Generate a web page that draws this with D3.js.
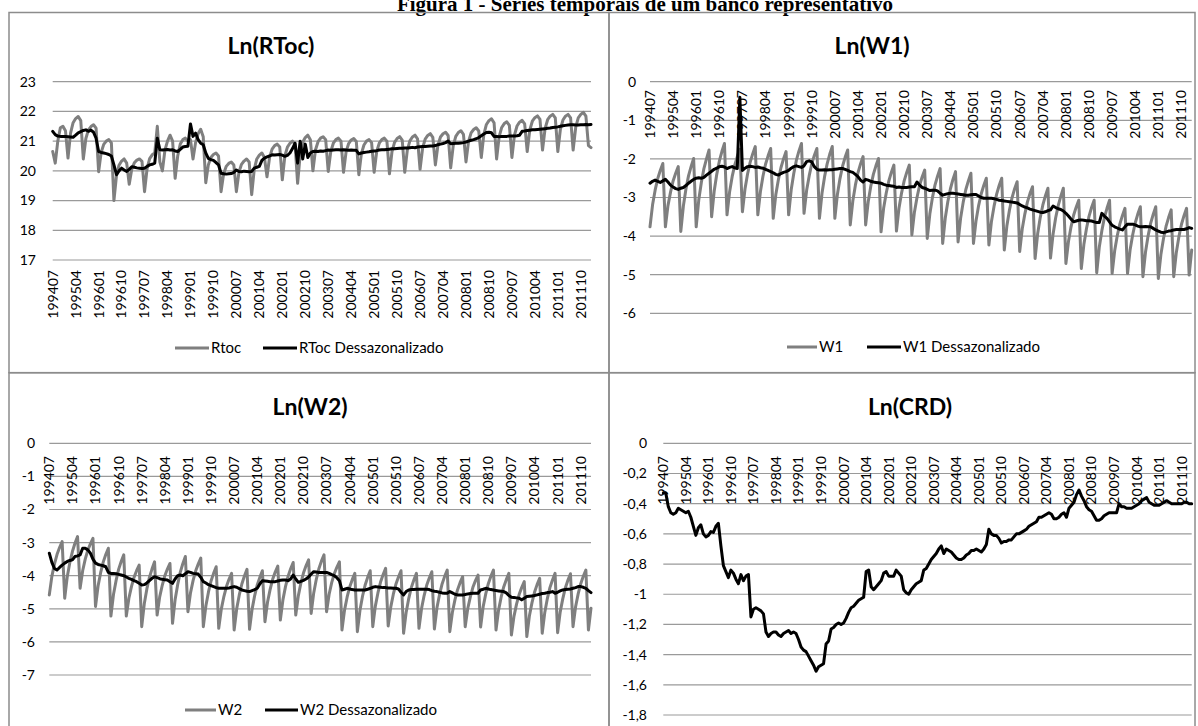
<!DOCTYPE html>
<html><head><meta charset="utf-8">
<script src="https://cdn.jsdelivr.net/npm/d3@7"></script>
<style>html,body{margin:0;padding:0;background:#fff;overflow:hidden}</style>
</head><body>
<script>
// ---------- categories (monthly, 199407 .. 201202) ----------
const months = [];
for (let k = 0; k < 212; k++) { const t = 1994*12 + 6 + k; months.push(String(Math.floor(t/12)) + String(t%12 + 1).padStart(2,'0')); }
const tickEvery = 9;

// ---------- series values ----------
const rtoc = [
20.65,20.26,21.0,21.45,21.5,21.35, 20.43,21.27,21.62,21.76,21.83,21.69, 20.40,21.09,21.38,21.49,21.55,21.44,
19.97,20.62,20.89,21.0,21.05,20.94, 19.0,19.84,20.19,20.33,20.4,20.26, 19.55,20.06,20.27,20.36,20.4,20.32,
19.3,20.08,20.41,20.54,20.6,21.5, 20.3,20.0,20.7,21.0,21.2,21.0, 19.75,20.5,20.9,21.05,21.1,21.0,
21.05,20.4,20.95,21.25,21.4,21.15, 19.6,20.2,20.45,20.55,20.6,20.5, 19.3,19.9,20.15,20.25,20.3,20.2,
19.3,19.95,20.22,20.33,20.4,20.3, 19.2,20.05,20.4,20.53,20.6,20.45, 19.8,20.45,20.73,20.85,20.9,20.8,
19.7,20.5,20.8,20.93,21.0,20.9, 19.58,20.55,20.96,21.12,21.2,21.05, 20.0,20.7,20.98,21.1,21.15,21.05,
19.98,20.65,20.93,21.05,21.1,21.0, 19.95,20.64,20.92,21.04,21.09,20.99, 19.87,20.58,20.87,21.0,21.05,20.95,
19.95,20.65,20.93,21.05,21.1,21.0, 19.9,20.65,20.96,21.09,21.15,21.03, 19.95,20.7,21.01,21.14,21.2,21.08,
20.05,20.77,21.07,21.19,21.25,21.13, 20.2,20.86,21.14,21.25,21.3,21.19, 20.1,20.85,21.16,21.29,21.35,21.23,
20.3,20.99,21.28,21.39,21.45,21.34, 20.45,21.23,21.56,21.69,21.75,21.62, 20.4,21.15,21.46,21.59,21.65,21.53,
20.45,21.2,21.51,21.64,21.7,21.58, 20.65,21.37,21.67,21.79,21.85,21.73, 20.7,21.42,21.72,21.84,21.9,21.78,
20.65,21.4,21.71,21.84,21.9,21.78, 20.7,21.46,21.78,21.9,21.97,21.84, 20.85,20.78];
const rtocDes = [
21.33,21.22,21.17,21.16,21.16,21.16,21.15,21.14,21.13,21.2,21.28,21.32,21.36,21.38,21.33,21.37,21.3,21.1,20.65,20.62,
20.6,20.58,20.55,20.5,20.2,19.87,20.0,20.09,20.03,19.98,20.05,20.14,20.12,20.1,20.09,20.08,20.09,20.15,20.2,20.22,
20.26,21.1,20.71,20.7,20.71,20.72,20.7,20.71,20.67,20.65,20.72,20.8,20.82,20.83,21.58,21.16,21.27,21.05,20.93,20.88,
20.6,20.42,20.38,20.35,20.28,20.2,19.92,19.9,19.89,19.9,19.91,19.95,20.03,19.98,19.97,19.99,19.98,19.97,19.98,20.09,
20.12,20.15,20.35,20.43,20.47,20.5,20.54,20.53,20.54,20.55,20.53,20.49,20.52,20.6,20.75,20.93,20.26,21.0,20.4,20.9,
20.45,20.6,20.65,20.66,20.65,20.67,20.66,20.68,20.7,20.69,20.7,20.71,20.71,20.7,20.71,20.7,20.69,20.7,20.69,20.69,
20.57,20.6,20.62,20.63,20.64,20.66,20.67,20.68,20.7,20.71,20.71,20.72,20.73,20.74,20.74,20.75,20.76,20.76,20.77,20.77,
20.78,20.79,20.78,20.8,20.81,20.82,20.82,20.83,20.84,20.84,20.85,20.88,20.9,20.92,20.95,21.0,20.91,20.92,20.93,20.93,
20.94,20.95,20.97,21.0,21.03,21.05,21.08,21.12,21.18,21.24,21.29,21.3,21.28,21.16,21.16,21.15,21.16,21.16,21.16,21.17,
21.17,21.17,21.18,21.2,21.33,21.34,21.36,21.37,21.38,21.38,21.39,21.4,21.41,21.42,21.43,21.44,21.46,21.47,21.48,21.5,
21.52,21.53,21.54,21.55,21.55,21.54,21.54,21.55,21.55,21.56,21.55,21.56];
const w1 = [
-3.76,-3.19,-2.81,-2.51,-2.30,-2.12, -3.76,-3.21,-2.86,-2.57,-2.37,-2.20, -3.88,-3.22,-2.78,-2.44,-2.20,-1.99,
-3.76,-3.06,-2.61,-2.25,-2.00,-1.77, -3.50,-2.84,-2.40,-2.06,-1.81,-1.60, -3.45,-2.86,-2.46,-2.16,-1.94,-1.75,
-3.37,-2.78,-2.39,-2.09,-1.87,-1.68, -3.45,-2.85,-2.45,-2.14,-1.92,-1.73, -3.54,-2.93,-2.54,-2.23,-2.00,-1.81,
-3.45,-2.80,-2.38,-2.04,-1.80,-1.60, -3.41,-2.82,-2.44,-2.13,-1.91,-1.73, -3.54,-2.89,-2.46,-2.13,-1.88,-1.68,
-3.54,-2.92,-2.51,-2.19,-1.96,-1.77, -3.71,-3.09,-2.68,-2.36,-2.13,-1.94, -3.71,-3.11,-2.71,-2.40,-2.18,-1.99,
-3.89,-3.28,-2.89,-2.58,-2.35,-2.16, -3.87,-3.27,-2.88,-2.57,-2.35,-2.16, -3.97,-3.38,-3.00,-2.69,-2.47,-2.29,
-4.06,-3.43,-3.01,-2.68,-2.45,-2.25, -4.19,-3.54,-3.11,-2.78,-2.53,-2.33, -4.15,-3.53,-3.12,-2.80,-2.57,-2.37,
-4.19,-3.60,-3.21,-2.91,-2.69,-2.50, -4.23,-3.62,-3.23,-2.92,-2.69,-2.50, -4.36,-3.74,-3.33,-3.01,-2.78,-2.59,
-4.40,-3.81,-3.43,-3.12,-2.90,-2.72, -4.58,-3.94,-3.52,-3.20,-2.96,-2.76, -4.57,-3.95,-3.53,-3.21,-2.97,-2.76,
-4.71,-4.14,-3.76,-3.46,-3.25,-3.07, -4.84,-4.22,-3.81,-3.49,-3.26,-3.07, -4.95,-4.29,-3.86,-3.52,-3.28,-3.07,
-4.97,-4.38,-3.99,-3.69,-3.47,-3.28, -4.97,-4.36,-3.97,-3.66,-3.43,-3.24, -5.05,-4.42,-4.00,-3.67,-3.44,-3.24,
-5.10,-4.48,-4.07,-3.75,-3.52,-3.32, -5.05,-4.43,-4.02,-3.70,-3.47,-3.28, -5.01,-4.36];
const w1Des = [
-2.63,-2.58,-2.55,-2.58,-2.61,-2.57,-2.53,-2.6,-2.68,-2.73,-2.77,-2.79,-2.76,-2.74,-2.69,-2.63,-2.58,-2.53,-2.5,-2.49,
-2.5,-2.48,-2.42,-2.37,-2.32,-2.27,-2.24,-2.2,-2.19,-2.21,-2.25,-2.22,-2.2,-2.23,-2.25,-0.40,-2.3,-2.24,-2.2,-2.19,
-2.2,-2.22,-2.21,-2.23,-2.24,-2.27,-2.3,-2.33,-2.36,-2.4,-2.42,-2.38,-2.35,-2.33,-2.3,-2.24,-2.2,-2.18,-2.2,-2.22,
-2.18,-2.07,-2.05,-2.08,-2.2,-2.27,-2.29,-2.29,-2.28,-2.29,-2.28,-2.28,-2.27,-2.26,-2.25,-2.25,-2.27,-2.3,-2.33,-2.35,
-2.4,-2.46,-2.55,-2.6,-2.53,-2.55,-2.58,-2.6,-2.61,-2.62,-2.63,-2.66,-2.68,-2.69,-2.7,-2.71,-2.74,-2.73,-2.74,-2.74,
-2.74,-2.73,-2.72,-2.72,-2.6,-2.68,-2.74,-2.76,-2.79,-2.82,-2.81,-2.81,-2.83,-2.89,-2.94,-2.92,-2.9,-2.89,-2.89,-2.9,
-2.91,-2.92,-2.93,-2.94,-2.94,-2.93,-2.92,-2.92,-2.96,-3.0,-3.02,-3.02,-3.02,-3.02,-3.03,-3.05,-3.07,-3.08,-3.09,-3.1,
-3.11,-3.12,-3.13,-3.14,-3.18,-3.22,-3.25,-3.27,-3.3,-3.32,-3.34,-3.36,-3.38,-3.39,-3.37,-3.34,-3.32,-3.22,-3.26,-3.29,
-3.31,-3.35,-3.41,-3.48,-3.56,-3.63,-3.61,-3.59,-3.58,-3.59,-3.6,-3.6,-3.61,-3.63,-3.65,-3.65,-3.41,-3.48,-3.54,-3.63,
-3.72,-3.76,-3.79,-3.82,-3.84,-3.76,-3.69,-3.69,-3.69,-3.71,-3.74,-3.76,-3.76,-3.75,-3.76,-3.76,-3.8,-3.84,-3.87,-3.9,
-3.91,-3.89,-3.87,-3.86,-3.84,-3.83,-3.83,-3.83,-3.83,-3.81,-3.78,-3.8];
const w2 = [
-4.58,-4.02,-3.65,-3.36,-3.15,-2.97, -4.68,-4.03,-3.60,-3.27,-3.02,-2.82, -4.38,-3.85,-3.50,-3.23,-3.04,-2.87,
-4.93,-4.31,-3.91,-3.59,-3.36,-3.17, -5.22,-4.57,-4.15,-3.81,-3.57,-3.37, -5.22,-4.68,-4.33,-4.05,-3.85,-3.68,
-5.54,-4.85,-4.40,-4.05,-3.80,-3.58, -5.19,-4.64,-4.29,-4.00,-3.80,-3.63, -5.44,-4.73,-4.27,-3.90,-3.64,-3.42,
-5.09,-4.52,-4.15,-3.86,-3.65,-3.47, -5.54,-4.91,-4.49,-4.16,-3.93,-3.73, -5.59,-5.01,-4.63,-4.33,-4.11,-3.93,
-5.64,-5.00,-4.58,-4.25,-4.01,-3.81, -5.62,-5.01,-4.60,-4.28,-4.05,-3.85, -5.39,-4.80,-4.42,-4.11,-3.89,-3.71,
-5.34,-4.73,-4.33,-4.02,-3.79,-3.60, -5.19,-4.61,-4.22,-3.92,-3.70,-3.52, -5.14,-4.52,-4.11,-3.79,-3.56,-3.37,
-5.09,-4.56,-4.21,-3.94,-3.75,-3.58, -5.64,-5.04,-4.65,-4.34,-4.12,-3.93, -5.69,-5.05,-4.62,-4.29,-4.05,-3.85,
-5.54,-4.92,-4.52,-4.20,-3.97,-3.78, -5.52,-4.95,-4.56,-4.26,-4.04,-3.85, -5.74,-5.11,-4.69,-4.36,-4.13,-3.93,
-5.59,-4.99,-4.60,-4.29,-4.07,-3.88, -5.61,-4.97,-4.57,-4.25,-4.02,-3.83, -5.69,-5.11,-4.73,-4.43,-4.21,-4.03,
-5.54,-4.99,-4.64,-4.35,-4.15,-3.98, -5.55,-4.94,-4.55,-4.24,-4.02,-3.83, -5.64,-5.04,-4.65,-4.34,-4.12,-3.93,
-5.79,-5.23,-4.86,-4.57,-4.36,-4.18, -5.84,-5.22,-4.82,-4.50,-4.27,-4.08, -5.74,-5.11,-4.69,-4.36,-4.13,-3.93,
-5.72,-5.10,-4.70,-4.37,-4.14,-3.94, -5.54,-4.94,-4.55,-4.24,-4.02,-3.83, -5.64,-4.98];
const w2Des = [
-3.32,-3.6,-3.78,-3.83,-3.75,-3.68,-3.62,-3.57,-3.54,-3.52,-3.42,-3.4,-3.37,-3.17,-3.17,-3.22,-3.32,-3.5,-3.62,-3.66,
-3.68,-3.7,-3.73,-3.9,-3.93,-3.93,-3.94,-3.96,-3.98,-4.0,-4.04,-4.08,-4.11,-4.15,-4.18,-4.23,-4.28,-4.27,-4.22,-4.15,
-4.08,-4.03,-4.06,-4.09,-4.11,-4.12,-4.13,-4.18,-4.23,-4.1,-4.0,-3.98,-4.0,-3.94,-3.88,-3.9,-3.93,-3.94,-3.95,-4.05,
-4.18,-4.22,-4.27,-4.3,-4.33,-4.36,-4.38,-4.38,-4.38,-4.38,-4.37,-4.35,-4.33,-4.35,-4.39,-4.43,-4.45,-4.47,-4.48,-4.45,
-4.42,-4.38,-4.25,-4.15,-4.16,-4.17,-4.18,-4.18,-4.18,-4.16,-4.14,-4.13,-4.13,-4.15,-4.1,-3.98,-4.1,-4.2,-4.17,-4.14,
-4.1,-4.04,-3.95,-3.88,-3.89,-3.9,-3.9,-3.9,-3.9,-3.93,-3.97,-4.0,-4.06,-4.15,-4.43,-4.41,-4.38,-4.4,-4.42,-4.43,
-4.43,-4.43,-4.43,-4.43,-4.41,-4.38,-4.35,-4.33,-4.34,-4.35,-4.36,-4.36,-4.37,-4.37,-4.38,-4.38,-4.4,-4.5,-4.58,-4.48,
-4.43,-4.42,-4.42,-4.41,-4.41,-4.41,-4.41,-4.41,-4.42,-4.45,-4.47,-4.48,-4.5,-4.52,-4.53,-4.53,-4.48,-4.52,-4.56,-4.58,
-4.58,-4.58,-4.57,-4.55,-4.54,-4.53,-4.53,-4.53,-4.43,-4.41,-4.38,-4.4,-4.42,-4.43,-4.45,-4.46,-4.47,-4.48,-4.52,-4.6,
-4.65,-4.66,-4.67,-4.68,-4.73,-4.68,-4.63,-4.62,-4.61,-4.6,-4.58,-4.56,-4.54,-4.53,-4.51,-4.5,-4.48,-4.53,-4.5,-4.46,
-4.43,-4.42,-4.41,-4.4,-4.38,-4.36,-4.33,-4.33,-4.35,-4.38,-4.45,-4.51];
const crd = [
-0.33,-0.33,-0.42,-0.46,-0.47,-0.46,-0.43,-0.44,-0.45,-0.46,-0.45,-0.49,-0.55,-0.61,-0.56,-0.54,-0.6,-0.62,-0.61,-0.585,
-0.59,-0.55,-0.53,-0.68,-0.81,-0.85,-0.89,-0.84,-0.86,-0.9,-0.93,-0.87,-0.91,-0.88,-0.87,-1.15,-1.1,-1.09,-1.1,-1.11,
-1.13,-1.25,-1.28,-1.26,-1.25,-1.25,-1.27,-1.28,-1.26,-1.25,-1.24,-1.26,-1.25,-1.26,-1.3,-1.35,-1.37,-1.38,-1.41,-1.44,
-1.47,-1.51,-1.48,-1.47,-1.46,-1.33,-1.31,-1.23,-1.22,-1.2,-1.19,-1.2,-1.19,-1.16,-1.12,-1.09,-1.08,-1.06,-1.04,-1.03,
-1.02,-0.85,-0.84,-0.95,-0.97,-0.95,-0.93,-0.91,-0.86,-0.85,-0.88,-0.88,-0.88,-0.84,-0.86,-0.88,-0.97,-0.99,-1.0,-0.97,
-0.95,-0.93,-0.92,-0.91,-0.84,-0.83,-0.8,-0.77,-0.75,-0.73,-0.7,-0.68,-0.73,-0.7,-0.71,-0.72,-0.74,-0.76,-0.77,-0.77,
-0.76,-0.74,-0.73,-0.71,-0.71,-0.7,-0.71,-0.72,-0.7,-0.67,-0.57,-0.6,-0.61,-0.61,-0.63,-0.66,-0.65,-0.65,-0.64,-0.64,
-0.62,-0.6,-0.6,-0.59,-0.58,-0.57,-0.55,-0.54,-0.53,-0.52,-0.49,-0.49,-0.48,-0.47,-0.46,-0.47,-0.5,-0.5,-0.49,-0.47,
-0.46,-0.49,-0.43,-0.41,-0.39,-0.34,-0.31,-0.35,-0.38,-0.42,-0.44,-0.45,-0.48,-0.51,-0.51,-0.5,-0.48,-0.47,-0.46,-0.46,
-0.46,-0.46,-0.4,-0.42,-0.42,-0.43,-0.43,-0.43,-0.42,-0.41,-0.4,-0.38,-0.37,-0.36,-0.39,-0.4,-0.41,-0.41,-0.41,-0.4,
-0.39,-0.38,-0.39,-0.4,-0.4,-0.4,-0.4,-0.4,-0.39,-0.39,-0.4,-0.4];

// ---------- axis ticks ----------
const ticksRtoc = [17,18,19,20,21,22,23];
const ticksW1 = [-6,-5,-4,-3,-2,-1,0];
const ticksW2 = [-7,-6,-5,-4,-3,-2,-1,0];
const ticksCrd = [-1.8,-1.6,-1.4,-1.2,-1,-0.8,-0.6,-0.4,-0.2,0];

const GRAY = "#7f7f7f", BLACK = "#000000";
const FONT = "Lato, 'Open Sans', sans-serif";

const svg = d3.select("body").append("svg").attr("width",1198).attr("height",726)
  .style("display","block");

// figure caption (clipped at the top edge, as in the source page)
svg.append("text").attr("x",645).attr("y",11).attr("text-anchor","middle")
  .attr("font-family","'Liberation Serif', 'Times New Roman', serif").attr("font-weight","bold")
  .attr("font-size",21).text("Figura 1 - Séries temporais de um banco representativo");

// panel frames
const frames = [[9,12.5,600,360.2],[609,12.5,586,360.2],[9,372.7,600,400],[609,372.7,586,400]];
svg.selectAll("rect.frame").data(frames).join("rect").attr("class","frame")
  .attr("x",d=>d[0]).attr("y",d=>d[1]).attr("width",d=>d[2]).attr("height",d=>d[3])
  .attr("fill","none").attr("stroke","#8c8c8c").attr("stroke-width",1.5);

const fmtComma = v => (+v.toFixed(1)).toString().replace(".",",");

const panels = [
  {title:"Ln(RToc)", tx:271, ty:54, x0:52.7, x1:591, yr:[260,81.7], dom:[17,23], ticks:ticksRtoc, fmt:d=>String(d), labX:36, catY:270,
   series:[{name:"Rtoc",data:rtoc,color:GRAY},{name:"RToc Dessazonalizado",data:rtocDes,color:BLACK}],
   legend:{y:348, pos:[[175,209,211],[263,297,299]]}},
  {title:"Ln(W1)", tx:872, ty:54, x0:650, x1:1191.7, yr:[313.3,81.7], dom:[-6,0], ticks:ticksW1, fmt:d=>String(d), labX:636, catY:90,
   series:[{name:"W1",data:w1,color:GRAY},{name:"W1 Dessazonalizado",data:w1Des,color:BLACK}],
   legend:{y:347, pos:[[787,817,819],[867,901,903]]}},
  {title:"Ln(W2)", tx:310, ty:415, x0:49.3, x1:591, yr:[675,443.3], dom:[-7,0], ticks:ticksW2, fmt:d=>String(d), labX:35, catY:456,
   series:[{name:"W2",data:w2,color:GRAY},{name:"W2 Dessazonalizado",data:w2Des,color:BLACK}],
   legend:{y:710, pos:[[185,216,218],[265,298,300]]}},
  {title:"Ln(CRD)", tx:910, ty:415, x0:663.3, x1:1191.7, yr:[715,443.3], dom:[-1.8,0], ticks:ticksCrd, fmt:fmtComma, labX:647, catY:456,
   series:[{name:"CRD",data:crd,color:BLACK}], legend:null}
];

panels.forEach(p => {
  const g = svg.append("g");
  const x = d3.scaleLinear().domain([0, months.length-1]).range([p.x0, p.x1]);
  const y = d3.scaleLinear().domain(p.dom).range(p.yr);
  g.selectAll("line.grid").data(p.ticks).join("line")
    .attr("x1",p.x0).attr("x2",p.x1).attr("y1",d=>y(d)).attr("y2",d=>y(d))
    .attr("stroke","#9a9a9a").attr("stroke-width",1.2);
  g.selectAll("text.yl").data(p.ticks).join("text")
    .attr("x",p.labX).attr("y",d=>y(d)).attr("dy","0.35em").attr("text-anchor","end")
    .attr("font-family",FONT).attr("font-size",14).attr("fill","#000").text(p.fmt);
  const cats = months.map((m,i)=>({m,i})).filter(d=>d.i%tickEvery===0);
  g.selectAll("text.xl").data(cats).join("text")
    .attr("transform",d=>`translate(${x(d.i)},${p.catY}) rotate(-90)`)
    .attr("dy","0.35em").attr("text-anchor","end")
    .attr("font-family",FONT).attr("font-size",14).attr("fill","#000").text(d=>d.m);
  const line = d3.line().x((d,i)=>x(i)).y(d=>y(d));
  p.series.forEach(s => {
    g.append("path").datum(s.data).attr("d",line).attr("fill","none")
      .attr("stroke",s.color).attr("stroke-width",3).attr("stroke-linejoin","round").attr("stroke-linecap","round");
  });
  g.append("text").attr("x",p.tx).attr("y",p.ty).attr("text-anchor","middle")
    .attr("font-family",FONT).attr("font-weight","bold").attr("font-size",23).text(p.title);
  if (p.legend) {
    p.series.forEach((s,k) => {
      const q = p.legend.pos[k];
      g.append("line").attr("x1",q[0]).attr("x2",q[1]).attr("y1",p.legend.y).attr("y2",p.legend.y)
        .attr("stroke",s.color).attr("stroke-width",3);
      g.append("text").attr("x",q[2]).attr("y",p.legend.y).attr("dy","0.35em")
        .attr("font-family",FONT).attr("font-size",15).attr("fill","#000").text(s.name);
    });
  }
});
</script>
</body></html>
